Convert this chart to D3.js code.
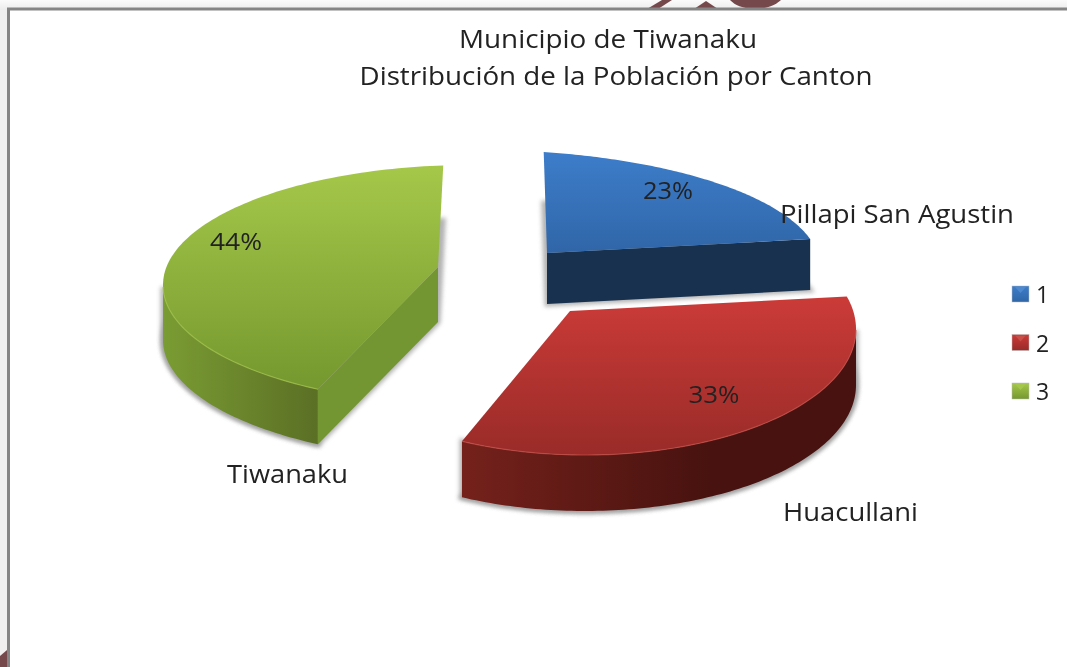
<!DOCTYPE html>
<html>
<head>
<meta charset="utf-8">
<script src="https://cdn.jsdelivr.net/npm/d3@7"></script>
<style>html,body{margin:0;padding:0;background:#fff;overflow:hidden}svg{display:block;filter:blur(0.4px)}</style>
</head>
<body>
<svg id="chart" width="1067" height="667"></svg>
<script>
// ---- data ----
const cantons = ["Pillapi San Agustin", "Huacullani", "Tiwanaku"];
const shares = [23, 33, 44];
const legendLabels = ["1", "2", "3"];
const titleLines = ["Municipio de Tiwanaku", "Distribución de la Población por Canton"];

// ---- layout and style (separate from the data) ----
const W = 1067, H = 667;
const sliceLayout = [
  {apex:[547,253], c:[480,267], rx:340, ry:117, phi:[10.8,76.2],  depth:51, cut:"end",
   top:["#3d7dca","#3066a8"], cutFill:"#17314f", side:["#17314f","#17314f"],
   rim:"#4f8ad0", pct:[668,199], pctW:50, name:[780,223], nameW:234},
  {apex:[570,311], c:[585,329], rx:271, ry:126, phi:[75,207],     depth:56, cut:null,
   top:["#cb3b38","#992b28"], cutFill:"#5a1815", side:["#75211b","#47120f"],
   rim:"#c9504a", pct:[714,403], pctW:51, name:[783,521], nameW:135},
  {apex:[438,267], c:[470,285], rx:307, ry:120, phi:[209.7,355],  depth:55, cut:"start",
   top:["#a5c84a","#75982f"], cutFill:"#749632", side:["#7a9c33","#5b6f25"],
   rim:"#a4c64c", pct:[236,250], pctW:52, name:[227,483], nameW:121}
];
const titleCenters = [608,616];
const titleBaselines = [48,85];
const titleWidths = [298,513];
const fontFamily = "'Open Sans', sans-serif";
const textColor = "#222";

const svg = d3.select("#chart");
const defs = svg.append("defs");

// page behind the frame
const bgGrad = defs.append("linearGradient").attr("id","pageBg").attr("x1",0).attr("x2",0).attr("y1",0).attr("y2",1);
bgGrad.append("stop").attr("offset",0).attr("stop-color","#fbfbfb");
bgGrad.append("stop").attr("offset",1).attr("stop-color","#ececec");
svg.append("rect").attr("width",W).attr("height",10).attr("fill","url(#pageBg)");
svg.append("rect").attr("y",10).attr("width",8).attr("height",H-10).attr("fill","#f0f0f0");

// fragments of the page's maroon emblem showing around the frame
const emblem = svg.append("g").attr("fill","#75494c");
const polyLine = d3.line();
[[[647,9],[662,0],[672,0],[658,9]],
 [[694,9],[706,1],[718,9]],
 [[0,656],[7,650],[7,667],[0,667]]].forEach(p=>emblem.append("path").attr("d",polyLine(p)+"Z"));
emblem.append("path").attr("d",
  d3.line().curve(d3.curveBasis)([[730,0],[738,7],[755,10],[772,7],[781,0]])+"Z");

// frame
svg.append("rect").attr("x",8).attr("y",9).attr("width",W).attr("height",H).attr("fill","#fff");
svg.append("path").attr("d",polyLine([[8.5,H],[8.5,9],[W,9]])).attr("fill","none").attr("stroke","#858585").attr("stroke-width",3);

// filters
const blur = defs.append("filter").attr("id","soft").attr("x","-10%").attr("y","-10%").attr("width","120%").attr("height","120%");
blur.append("feGaussianBlur").attr("stdDeviation",2.2);

// pie angles
const pieData = d3.pie().sort(null).value(d=>d)(shares);
const line = d3.line();

pieData.forEach((arc,i)=>{
  const L = sliceLayout[i];
  const phiOf = d3.scaleLinear().domain([arc.startAngle,arc.endAngle]).range(L.phi);
  const pt = phiDeg => {
    const a = phiDeg*Math.PI/180;
    return [L.c[0]+L.rx*Math.sin(a), L.c[1]-L.ry*Math.cos(a)];
  };
  const samples = d3.range(0,121).map(k=>arc.startAngle+(arc.endAngle-arc.startAngle)*k/120).map(phiOf);
  const rimPts = samples.map(pt);
  const topPts = [L.apex,...rimPts];
  const down = p=>[p[0],p[1]+L.depth];
  const vis = samples.filter(p=>Math.cos(p*Math.PI/180)<=0).map(pt);
  const g = svg.append("g").attr("class","slice");

  // soft shadow of the base
  g.append("path").attr("d",line(topPts.map(down))+"Z")
    .attr("fill","#9a9a9a").attr("stroke","#9a9a9a").attr("stroke-width",5)
    .attr("filter","url(#soft)").attr("opacity",.75);
  if(vis.length) g.append("path").attr("d",line([...vis,...vis.slice().reverse().map(down)])+"Z")
    .attr("fill","#9a9a9a").attr("stroke","#9a9a9a").attr("stroke-width",5)
    .attr("filter","url(#soft)").attr("opacity",.75);

  // top-face and side gradients
  const ys = rimPts.map(p=>p[1]).concat(L.apex[1]);
  const topId = "top"+i, sideId = "side"+i;
  const tg = defs.append("linearGradient").attr("id",topId).attr("gradientUnits","userSpaceOnUse")
    .attr("x1",0).attr("x2",0).attr("y1",d3.min(ys)).attr("y2",d3.max(ys));
  tg.append("stop").attr("offset",0).attr("stop-color",L.top[0]);
  tg.append("stop").attr("offset",1).attr("stop-color",L.top[1]);
  if(vis.length){
    const xs = vis.map(p=>p[0]);
    const sg = defs.append("linearGradient").attr("id",sideId).attr("gradientUnits","userSpaceOnUse")
      .attr("x1",d3.min(xs)).attr("x2",i===2?d3.max(xs):d3.min(xs)+250).attr("y1",0).attr("y2",0);
    sg.append("stop").attr("offset",0).attr("stop-color",L.side[0]);
    sg.append("stop").attr("offset",1).attr("stop-color",L.side[1]);
    g.append("path").attr("d",line([...vis,...vis.slice().reverse().map(down)])+"Z").attr("fill",`url(#${sideId})`);
  }
  // cut face
  if(L.cut){
    const edge = L.cut==="end"?rimPts[rimPts.length-1]:rimPts[0];
    g.append("path").attr("d",line([L.apex,edge,down(edge),down(L.apex)])+"Z").attr("fill",L.cutFill);
  }
  // top face
  g.append("path").attr("d",line(topPts)+"Z").attr("fill",`url(#${topId})`);
  // bevel highlight on the front rim
  if(vis.length) g.append("path").attr("d",line(vis)).attr("fill","none").attr("stroke",L.rim).attr("stroke-width",1.2).attr("opacity",.7);
});

// labels
const textLayer = svg.append("g").attr("font-family",fontFamily).attr("fill",textColor);
titleLines.forEach((t,i)=>textLayer.append("text").attr("x",titleCenters[i]).attr("y",titleBaselines[i])
  .attr("text-anchor","middle").attr("font-size",25)
  .attr("textLength",titleWidths[i]).attr("lengthAdjust","spacingAndGlyphs").text(t));
cantons.forEach((c,i)=>textLayer.append("text").attr("x",sliceLayout[i].name[0]).attr("y",sliceLayout[i].name[1])
  .attr("font-size",25).attr("textLength",sliceLayout[i].nameW).attr("lengthAdjust","spacingAndGlyphs").text(c));
pieData.forEach((arc,i)=>{
  const pct = Math.round(100*(arc.endAngle-arc.startAngle)/(2*Math.PI));
  textLayer.append("text").attr("x",sliceLayout[i].pct[0]).attr("y",sliceLayout[i].pct[1])
    .attr("text-anchor","middle").attr("font-size",23)
    .attr("textLength",sliceLayout[i].pctW).attr("lengthAdjust","spacingAndGlyphs").text(pct+"%");
});

// legend
const legendY = d3.scalePoint().domain(legendLabels).range([294,391]);
legendLabels.forEach((l,i)=>{
  const y = legendY(l), L = sliceLayout[i], id = "leg"+i;
  const lg = defs.append("linearGradient").attr("id",id).attr("x1",0).attr("x2",0).attr("y1",0).attr("y2",1);
  lg.append("stop").attr("offset",0).attr("stop-color",L.top[0]);
  lg.append("stop").attr("offset",1).attr("stop-color",L.top[1]);
  svg.append("rect").attr("x",1012).attr("y",y-8).attr("width",17).attr("height",16).attr("fill",`url(#${id})`)
    .attr("stroke","#bbb").attr("stroke-width",.5);
  svg.append("path").attr("d",line([[1015,y-7],[1026,y-7],[1020.5,y-1]])+"Z").attr("fill",L.rim).attr("opacity",.95);
  textLayer.append("text").attr("x",1036).attr("y",y+9).attr("font-size",23).text(l);
});
</script>
</body>
</html>
